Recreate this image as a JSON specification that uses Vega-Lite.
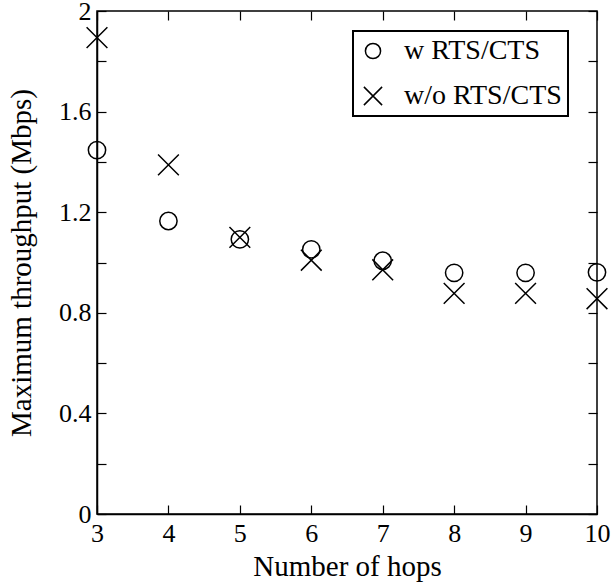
{
  "$schema": "https://vega.github.io/schema/vega-lite/v6.json",
  "width": 500,
  "height": 503,
  "autosize": "none",
  "padding": {"left": 97, "top": 11, "right": 16, "bottom": 72},
  "background": "white",
  "config": {
    "font": "Liberation Serif, Times New Roman, serif",
    "view": {"stroke": "black", "strokeWidth": 1.5},
    "axis": {
      "domainColor": "black",
      "domainWidth": 1.5,
      "tickColor": "black",
      "tickWidth": 1.2,
      "tickSize": -9,
      "grid": false,
      "labelColor": "black",
      "labelFont": "Liberation Serif, Times New Roman, serif",
      "labelFontSize": 26,
      "titleColor": "black",
      "titleFont": "Liberation Serif, Times New Roman, serif",
      "titleFontSize": 29,
      "titleFontWeight": "normal"
    },
    "legend": {
      "labelFont": "Liberation Serif, Times New Roman, serif",
      "labelFontSize": 28,
      "labelColor": "black",
      "strokeColor": "black",
      "strokeWidth": 2
    }
  },
  "data": {
    "values": [
      {"hops": 3, "throughput": 1.447, "mode": "w RTS/CTS"},
      {"hops": 4, "throughput": 1.165, "mode": "w RTS/CTS"},
      {"hops": 5, "throughput": 1.092, "mode": "w RTS/CTS"},
      {"hops": 6, "throughput": 1.052, "mode": "w RTS/CTS"},
      {"hops": 7, "throughput": 1.007, "mode": "w RTS/CTS"},
      {"hops": 8, "throughput": 0.959, "mode": "w RTS/CTS"},
      {"hops": 9, "throughput": 0.959, "mode": "w RTS/CTS"},
      {"hops": 10, "throughput": 0.961, "mode": "w RTS/CTS"},
      {"hops": 3, "throughput": 1.894, "mode": "w/o RTS/CTS"},
      {"hops": 4, "throughput": 1.388, "mode": "w/o RTS/CTS"},
      {"hops": 5, "throughput": 1.1, "mode": "w/o RTS/CTS"},
      {"hops": 6, "throughput": 1.009, "mode": "w/o RTS/CTS"},
      {"hops": 7, "throughput": 0.971, "mode": "w/o RTS/CTS"},
      {"hops": 8, "throughput": 0.877, "mode": "w/o RTS/CTS"},
      {"hops": 9, "throughput": 0.877, "mode": "w/o RTS/CTS"},
      {"hops": 10, "throughput": 0.856, "mode": "w/o RTS/CTS"}
    ]
  },
  "layer": [
    {
      "mark": {"type": "point", "filled": false, "stroke": "black", "strokeWidth": 1.5, "size": 300, "opacity": 1, "clip": false},
      "encoding": {
        "x": {
          "field": "hops", "type": "quantitative",
          "scale": {"domain": [3, 10], "nice": false, "zero": false},
          "axis": {"values": [3, 4, 5, 6, 7, 8, 9, 10], "title": "Number of hops", "labelPadding": 15, "titlePadding": 6, "labelFlush": false, "labelOverlap": false}
        },
        "y": {
          "field": "throughput", "type": "quantitative",
          "scale": {"domain": [0, 2], "nice": false},
          "axis": {
            "values": [0, 0.2, 0.4, 0.6, 0.8, 1.0, 1.2, 1.4, 1.6, 1.8, 2.0],
            "format": ".1~f",
            "labelExpr": "round(datum.value*10) % 4 == 0 ? datum.label : ''",
            "title": "Maximum throughput (Mbps)",
            "labelPadding": 15,
            "titlePadding": 22,
            "labelFlush": false,
            "labelOverlap": false
          }
        },
        "shape": {
          "field": "mode", "type": "nominal",
          "scale": {"domain": ["w RTS/CTS", "w/o RTS/CTS"], "range": ["circle", "M-1.2,-1.2L1.2,1.2M-1.2,1.2L1.2,-1.2"]},
          "legend": {
            "title": null,
            "orient": "none",
            "legendX": 256,
            "legendY": 20,
            "padding": 6,
            "rowPadding": 17,
            "symbolSize": 230,
            "symbolStrokeColor": "black",
            "symbolStrokeWidth": 1.5,
            "symbolFillColor": "transparent",
            "labelOffset": 17
          }
        }
      }
    },
    {
      "mark": {"type": "point", "opacity": 0},
      "encoding": {
        "x": {
          "field": "hops", "type": "quantitative",
          "axis": {"orient": "top", "values": [3, 4, 5, 6, 7, 8, 9, 10], "labels": false, "title": null, "domain": false}
        },
        "y": {
          "field": "throughput", "type": "quantitative",
          "axis": {"orient": "right", "values": [0, 0.2, 0.4, 0.6, 0.8, 1.0, 1.2, 1.4, 1.6, 1.8, 2.0], "labels": false, "title": null, "domain": false}
        }
      }
    }
  ],
  "resolve": {"axis": {"x": "independent", "y": "independent"}}
}
